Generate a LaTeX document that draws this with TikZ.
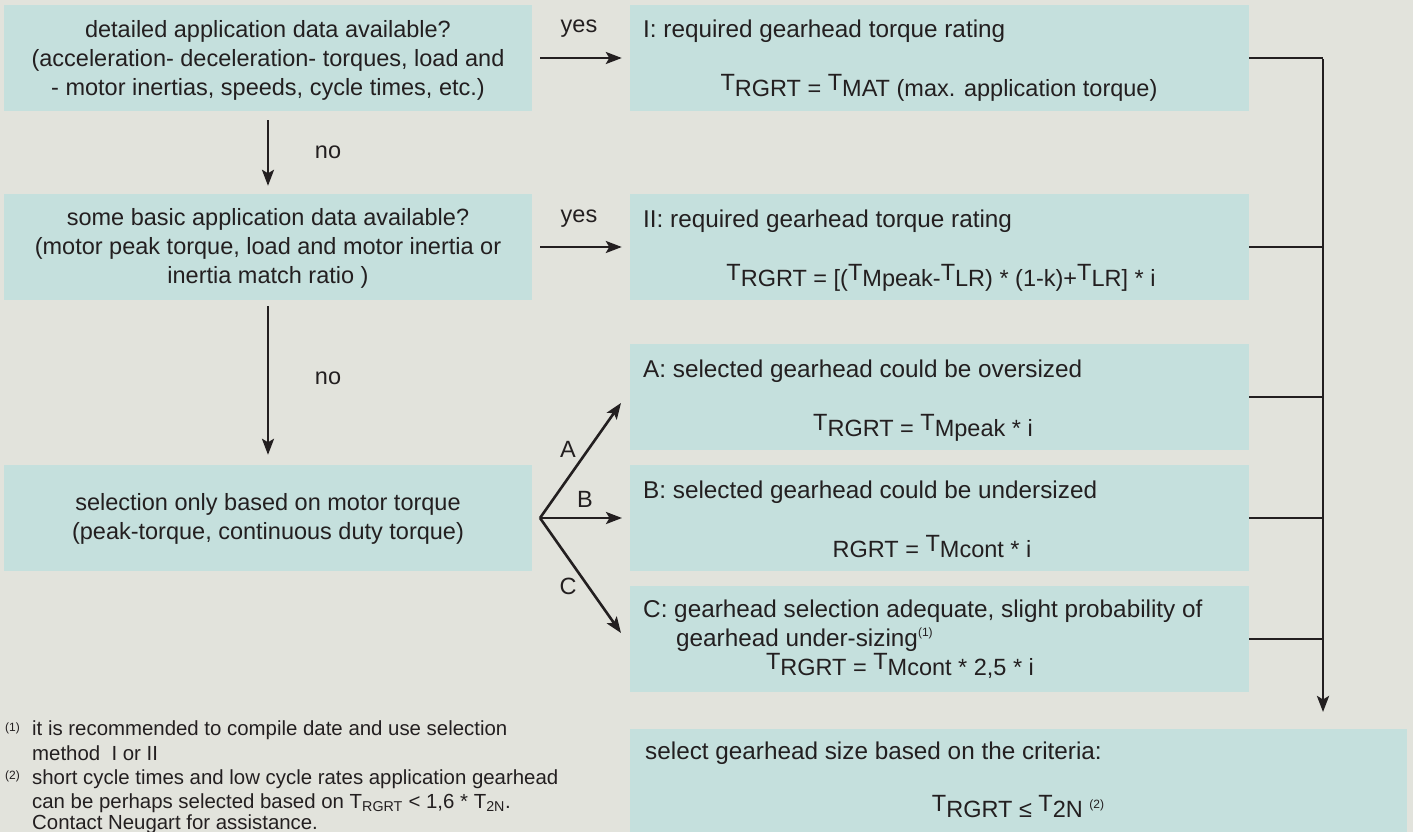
\documentclass[tikz,border=0pt]{standalone}
\usepackage{fontspec}
\setmainfont{Liberation Sans}
\usetikzlibrary{arrows.meta}
\definecolor{bgc}{RGB}{226,227,220}
\definecolor{boxc}{RGB}{197,224,221}
\definecolor{ink}{RGB}{35,31,32}
\newcommand\Tup[1]{\raisebox{6pt}{T}#1}
\begin{document}
\begin{tikzpicture}[x=1pt,y=-1pt,
  lbox/.style={fill=boxc, draw=none, inner sep=0, minimum width=528pt, minimum height=106pt},
  rbox/.style={fill=boxc, draw=none, inner sep=0, minimum width=619pt, minimum height=106pt},
  txt/.style={text=ink, inner sep=0, font=\fontsize{23.5}{29}\selectfont},
  htxt/.style={text=ink, inner sep=0, font=\fontsize{24.3}{29}\selectfont},
  ftxt/.style={text=ink, inner sep=0, font=\fontsize{20.4}{24}\selectfont},
  fnmark/.style={text=ink, inner sep=0, font=\fontsize{12}{12}\selectfont},
  arr/.style={draw=ink, line width=2.6pt, -{Stealth[length=16pt,width=12pt,inset=3.5pt]}},
  ln/.style={draw=ink, line width=2.2pt}]
\useasboundingbox (0,0) rectangle (1413,832);
\fill[bgc] (0,0) rectangle (1413,832);
% boxes
\node[lbox] (l1) at (268,58) {};
\node[lbox] (l2) at (268,247) {};
\node[lbox] (l3) at (268,518) {};
\node[rbox] (r1) at (939.5,58) {};
\node[rbox] (r2) at (939.5,247) {};
\node[rbox] (r3) at (939.5,397) {};
\node[rbox] (r4) at (939.5,518) {};
\node[rbox] (r5) at (939.5,639) {};
\node[fill=boxc, draw=none, inner sep=0, minimum width=777pt, minimum height=110pt] (r6) at (1018.5,784) {};
% left texts
\node[txt, align=center] (t1) at (268,60) {detailed application data available?\\(acceleration- deceleration- torques, load and\\- motor inertias, speeds, cycle times, etc.)};
\node[txt, align=center] (t2) at (268,248) {some basic application data available?\\(motor peak torque, load and motor inertia or\\inertia match ratio )};
\node[txt, align=center] (t3) at (268,519) {selection only based on motor torque\\(peak-torque, continuous duty torque)};
% right texts
\node[htxt, anchor=base west] (h1) at (643,38) {I: required gearhead torque rating};
\node[txt, anchor=base] (f1) at (939,97) {\Tup{RGRT} = \Tup{MAT} (max. application torque)};
\node[htxt, anchor=base west] (h2) at (643,227) {II: required gearhead torque rating};
\node[txt, anchor=base] (f2) at (941,286) {\Tup{RGRT} = [(\Tup{Mpeak}-\Tup{LR}) * (1-k)+\Tup{LR}] * i};
\node[htxt, anchor=base west] (h3) at (643,377) {A: selected gearhead could be oversized};
\node[txt, anchor=base] (f3) at (923,436) {\Tup{RGRT} = \Tup{Mpeak} * i};
\node[htxt, anchor=base west] (h4) at (643,498) {B: selected gearhead could be undersized};
\node[txt, anchor=base] (f4) at (932,557) {RGRT = \Tup{Mcont} * i};
\node[htxt, anchor=base west] (h5) at (643,617) {C: gearhead selection adequate, slight probability of};
\node[htxt, anchor=base west] (h5b) at (676,646) {gearhead under-sizing\textsuperscript{\fontsize{12}{12}\selectfont(1)}};
\node[txt, anchor=base] (f5) at (900,675) {\Tup{RGRT} = \Tup{Mcont} * 2,5 * i};
\node[htxt, anchor=base west] (h6) at (645,759) {select gearhead size based on the criteria:};
\node[txt, anchor=base] (f6) at (1018,817) {\Tup{RGRT} ≤ \Tup{2N} \raisebox{9pt}{\fontsize{12}{12}\selectfont(2)}};
% footnotes
\node[fnmark, anchor=base west] (m1) at (5,731) {(1)};
\node[ftxt, anchor=base west] (n1a) at (32,735) {it is recommended to compile date and use selection};
\node[ftxt, anchor=base west] (n1b) at (32,760) {method\ \ I or II};
\node[fnmark, anchor=base west] (m2) at (5,779) {(2)};
\node[ftxt, anchor=base west] (n2a) at (32,784) {short cycle times and low cycle rates application gearhead};
\node[ftxt, anchor=base west] (n2b) at (32,808) {can be perhaps selected based on T\textsubscript{RGRT} < 1,6 * T\textsubscript{2N}.};
\node[ftxt, anchor=base west] (n2c) at (32,829) {Contact Neugart for assistance.};
% yes / no arrows
\draw[arr, shorten <=8pt, shorten >=8pt] (l1) -- (r1);
\node[txt, anchor=base] (y1) at (579,33) {yes};
\draw[arr, shorten <=8pt, shorten >=8pt] (l2) -- (r2);
\node[txt, anchor=base] (y2) at (579,222) {yes};
\draw[arr, shorten <=9pt, shorten >=8pt] (l1) -- (l2);
\node[txt, anchor=base] (n1) at (328,158) {no};
\draw[arr, shorten <=6pt, shorten >=10pt] (l2) -- (l3);
\node[txt, anchor=base] (n2) at (328,384) {no};
% fork
\coordinate (fork) at (540,518);
\coordinate (ta) at (621,403);
\coordinate (tb) at (622,518);
\coordinate (tc) at (621,633);
\draw[arr] (fork) -- (ta);
\draw[arr] (fork) -- (tb);
\draw[arr] (fork) -- (tc);
\node[txt, anchor=center] (la) at (568,449) {A};
\node[txt, anchor=center] (lb) at (585,499) {B};
\node[txt, anchor=center] (lc) at (568,586) {C};
% collector
\coordinate (bustop) at (1323,58);
\coordinate (busend) at (1323,712);
\draw[ln] (r1.east) -- (bustop);
\draw[ln] (r2.east) -- (r2.east -| bustop);
\draw[ln] (r3.east) -- (r3.east -| bustop);
\draw[ln] (r4.east) -- (r4.east -| bustop);
\draw[ln] (r5.east) -- (r5.east -| bustop);
\draw[arr, line width=2.8pt] ([yshift=-1.4pt]bustop) -- (busend);
\end{tikzpicture}
\end{document}
